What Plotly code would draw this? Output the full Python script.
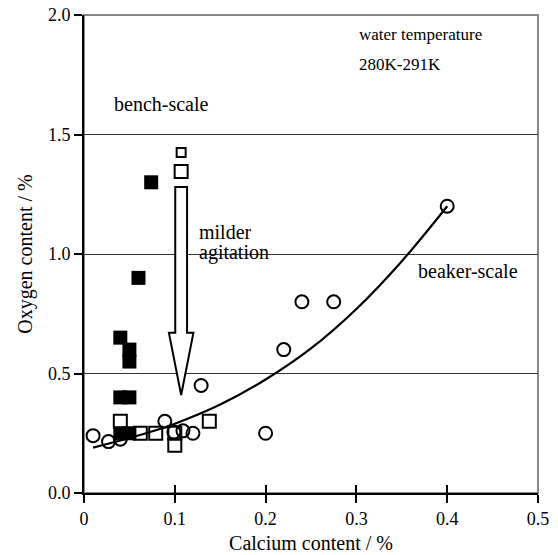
import plotly.graph_objects as go

# ---- data ----
beaker_x = [0.01, 0.027, 0.04, 0.089, 0.099, 0.109, 0.12, 0.129, 0.2, 0.22, 0.24, 0.275, 0.40]
beaker_y = [0.24, 0.215, 0.225, 0.30, 0.255, 0.26, 0.25, 0.45, 0.25, 0.60, 0.80, 0.80, 1.20]

bench_open_x = [0.04, 0.062, 0.079, 0.10, 0.10, 0.138, 0.107]
bench_open_y = [0.30, 0.25, 0.25, 0.25, 0.20, 0.30, 1.345]

bench_top_x = [0.107]
bench_top_y = [1.425]

bench_filled_x = [0.074, 0.06, 0.04, 0.05, 0.05, 0.04, 0.05, 0.04, 0.05]
bench_filled_y = [1.30, 0.90, 0.65, 0.60, 0.55, 0.40, 0.40, 0.25, 0.25]

fit_x = [0.01, 0.05, 0.10, 0.15, 0.20, 0.25, 0.30, 0.35, 0.40]
fit_y = [0.19, 0.23, 0.29, 0.37, 0.475, 0.605, 0.77, 0.97, 1.20]

x_ticks = [0, 0.1, 0.2, 0.3, 0.4, 0.5]
x_ticktext = ["0", "0.1", "0.2", "0.3", "0.4", "0.5"]
y_ticks = [0.0, 0.5, 1.0, 1.5, 2.0]
y_ticktext = ["0.0", "0.5", "1.0", "1.5", "2.0"]

# arrow annotation geometry
ARROW_X = 0.107
ARROW_TOP = 1.28
ARROW_HEAD = 0.67
ARROW_TIP = 0.41
SHAFT_HW = 0.0065
HEAD_HW = 0.0135

FONT = "Liberation Serif, Times New Roman, serif"

fig = go.Figure()

fig.add_trace(go.Scatter(
    x=bench_filled_x, y=bench_filled_y, mode="markers",
    marker=dict(symbol="square", size=14, color="black", line=dict(width=0)),
    showlegend=False))
fig.add_trace(go.Scatter(
    x=bench_open_x, y=bench_open_y, mode="markers",
    marker=dict(symbol="square-open", size=13, color="black", line=dict(width=2)),
    showlegend=False))
fig.add_trace(go.Scatter(
    x=bench_top_x, y=bench_top_y, mode="markers",
    marker=dict(symbol="square-open", size=9, color="black", line=dict(width=2)),
    showlegend=False))
fig.add_trace(go.Scatter(
    x=beaker_x, y=beaker_y, mode="markers",
    marker=dict(symbol="circle-open", size=13, color="black", line=dict(width=2)),
    showlegend=False))
fig.add_trace(go.Scatter(
    x=fit_x, y=fit_y, mode="lines", line=dict(color="black", width=2.2, shape="spline"),
    showlegend=False))
# helper trace for the inside half of the crossing x ticks
fig.add_trace(go.Scatter(x=[None], y=[None], xaxis="x2", yaxis="y",
                         mode="markers", showlegend=False, hoverinfo="skip"))

arrow_path = (
    f"M {ARROW_X - SHAFT_HW},{ARROW_TOP} L {ARROW_X + SHAFT_HW},{ARROW_TOP} "
    f"L {ARROW_X + SHAFT_HW},{ARROW_HEAD} L {ARROW_X + HEAD_HW},{ARROW_HEAD} "
    f"L {ARROW_X},{ARROW_TIP} L {ARROW_X - HEAD_HW},{ARROW_HEAD} "
    f"L {ARROW_X - SHAFT_HW},{ARROW_HEAD} Z"
)

fig.update_layout(
    width=558, height=555,
    margin=dict(l=84, r=20, t=15, b=62),
    plot_bgcolor="white", paper_bgcolor="white",
    font=dict(family=FONT, size=18, color="black"),
    xaxis=dict(
        range=[0, 0.5], tickvals=x_ticks, ticktext=x_ticktext,
        showgrid=False, zeroline=False, automargin=False,
        showline=True, linecolor="black", linewidth=2,
        ticks="outside", ticklen=8, tickwidth=1.5, tickcolor="black",
        tickfont=dict(family=FONT, size=18),
        title=dict(text="Calcium content / %", font=dict(family=FONT, size=20), standoff=8),
    ),
    xaxis2=dict(
        range=[0, 0.5], overlaying="x", side="bottom", tickvals=x_ticks,
        showticklabels=False, showgrid=False, zeroline=False, showline=False,
        automargin=False,
        ticks="inside", ticklen=8, tickwidth=1.5, tickcolor="black",
    ),
    yaxis=dict(
        range=[0, 2.0], tickvals=y_ticks, ticktext=y_ticktext,
        showgrid=True, gridcolor="#333333", gridwidth=1, zeroline=False,
        automargin=False,
        showline=True, linecolor="black", linewidth=2,
        ticks="outside", ticklen=8, tickwidth=1.5, tickcolor="black",
        tickfont=dict(family=FONT, size=18),
        title=dict(text="Oxygen content / %", font=dict(family=FONT, size=20), standoff=10),
    ),
    shapes=[
        dict(type="rect", xref="paper", yref="paper", x0=0, x1=1, y0=0, y1=1,
             line=dict(color="#888888", width=2), layer="below"),
        dict(type="path", xref="x", yref="y", path=arrow_path,
             line=dict(color="black", width=2), fillcolor="white", layer="above"),
    ],
    annotations=[
        dict(text="bench-scale", x=0.0856, y=1.627, xref="x", yref="y",
             showarrow=False, font=dict(family=FONT, size=20)),
        dict(text="milder", x=0.124, y=1.09, xref="x", yref="y",
             xanchor="left", showarrow=False, font=dict(family=FONT, size=20)),
        dict(text="agitation", x=0.124, y=1.005, xref="x", yref="y",
             xanchor="left", showarrow=False, font=dict(family=FONT, size=20)),
        dict(text="beaker-scale", x=0.366, y=0.93, xref="x", yref="y",
             xanchor="left", showarrow=False, font=dict(family=FONT, size=20)),
        dict(text="water temperature", x=0.301, y=1.92, xref="x", yref="y",
             xanchor="left", showarrow=False, font=dict(family=FONT, size=17)),
        dict(text="280K-291K", x=0.301, y=1.795, xref="x", yref="y",
             xanchor="left", showarrow=False, font=dict(family=FONT, size=17)),
    ],
)

fig.write_html("out.html",
               config={"displayModeBar": False},
               post_script="document.body.style.margin='0px';document.body.style.padding='0px';")
